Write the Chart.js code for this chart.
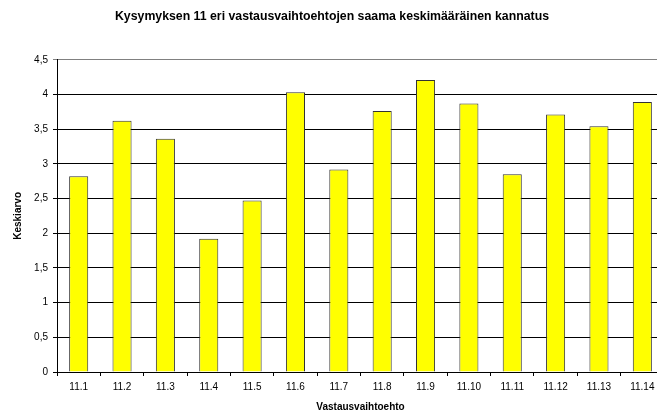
<!DOCTYPE html>
<html>
<head>
<meta charset="utf-8">
<script src="https://cdn.jsdelivr.net/npm/chart.js@4.4.1/dist/chart.umd.min.js"></script>
<style>
  html, body { margin: 0; padding: 0; background: #fff; overflow: hidden; }
  #wrap { width: 657px; height: 415px; overflow: hidden; }
</style>
</head>
<body>
<div id="wrap"><canvas id="chart" width="672" height="415"></canvas></div>
<script>
const categories = ["11.1", "11.2", "11.3", "11.4", "11.5", "11.6", "11.7",
  "11.8", "11.9", "11.10", "11.11", "11.12", "11.13", "11.14"];
const meanValues = [2.82, 3.62, 3.36, 1.92, 2.47, 4.03, 2.92,
  3.76, 4.21, 3.87, 2.85, 3.71, 3.54, 3.89];
const chartTitle = "Kysymyksen 11 eri vastausvaihtoehtojen saama keskimääräinen kannatus";
const yTitle = "Keskiarvo";
const xTitle = "Vastausvaihtoehto";

const font = "'Liberation Sans', Arial, sans-serif";

new Chart(document.getElementById("chart"), {
  type: "bar",
  data: {
    labels: categories,
    datasets: [{
      label: yTitle,
      data: meanValues,
      backgroundColor: "#ffff00",
      borderColor: "#333333",
      borderWidth: 1,
      barPercentage: 1,
      categoryPercentage: 0.44
    }]
  },
  options: {
    responsive: false,
    animation: false,
    layout: { padding: { left: 0, right: 8, bottom: 0 } },
    plugins: {
      legend: { display: false },
      tooltip: { enabled: false },
      title: {
        display: true,
        text: chartTitle,
        color: "#000",
        font: { family: font, size: 12.3, weight: "bold" },
        padding: { top: 9, bottom: 36 }
      }
    },
    scales: {
      x: {
        grid: {
          display: true,
          drawOnChartArea: false,
          drawTicks: true,
          tickLength: 4,
          color: "#000",
          offset: true
        },
        border: { color: "#000", width: 1 },
        ticks: {
          color: "#000",
          font: { family: font, size: 10 },
          maxRotation: 0,
          padding: 5
        },
        title: {
          display: true,
          text: xTitle,
          color: "#000",
          font: { family: font, size: 10, weight: "bold" },
          padding: { top: 4, bottom: 2 }
        },
        afterFit: s => { s.height = 43; }
      },
      y: {
        min: 0,
        max: 4.5,
        grid: {
          // top line is the grey plot border in the original
          color: ctx => (ctx.tick && ctx.tick.value === 4.5 ? "#808080" : "#000"),
          lineWidth: 1,
          drawTicks: true,
          tickLength: 4
        },
        border: { color: "#000", width: 1 },
        ticks: {
          stepSize: 0.5,
          color: "#000",
          font: { family: font, size: 10 },
          padding: 5,
          callback: v => String(v).replace(".", ",")
        },
        title: {
          display: true,
          text: yTitle,
          color: "#000",
          font: { family: font, size: 10, weight: "bold" },
          padding: { top: 12, bottom: 4 }
        },
        afterFit: s => { s.width = 57; }
      }
    }
  }
});
</script>
</body>
</html>
